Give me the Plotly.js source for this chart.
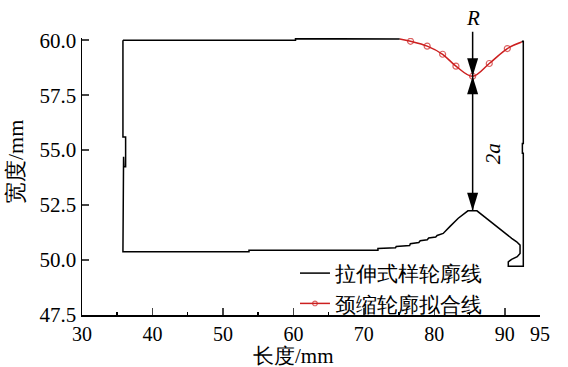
<!DOCTYPE html>
<html>
<head>
<meta charset="utf-8">
<script src="https://cdn.plot.ly/plotly-3.0.1.min.js"></script>
<style>html,body{margin:0;padding:0;background:#fff;}#chart{width:568px;height:367px;}</style>
</head>
<body>
<div id="chart"></div>
<script>
// Specimen contour (black), null = gap where fitted neck is drawn
var contourX = [35.81, 60.3, 60.3, 75.1, null, 92.4, 92.63, 92.63, 92.5, 92.5, 92.63, 92.63, 90.5, 90.5, 90.97, 91.77, 92.17, 92.17, 91.69, 90.98, 89.79, 88.37, 86.95, 86.05, 84.77, 83.4, 82.2, 81.26, 80.4, 80.2, 79.2, 79.0, 78.0, 77.8, 76.6, 76.5, 74.6, 74.5, 72.0, 72.0, 53.7, 53.7, 35.81, 35.81, 35.9, 35.95, 36.19, 36.19, 35.81, 35.81];
var contourY = [60.0, 60.0, 60.07, 60.06, null, 59.92, 59.97, 55.3, 55.3, 54.86, 54.86, 49.72, 49.72, 49.92, 50.03, 50.15, 50.3, 50.68, 50.83, 50.99, 51.29, 51.67, 52.05, 52.24, 52.24, 51.9, 51.52, 51.21, 51.12, 51.05, 51.0, 50.92, 50.88, 50.8, 50.74, 50.66, 50.62, 50.56, 50.53, 50.45, 50.45, 50.38, 50.38, 54.62, 54.7, 54.24, 54.24, 55.6, 55.6, 60.0];
// Fitted neck contour (red)
var neckX = [75.1, 76.63, 78.99, 81.18, 83.07, 85.44, 87.80, 90.36, 92.4];
var neckY = [60.05, 59.95, 59.73, 59.36, 58.82, 58.36, 58.94, 59.62, 59.92];
var neckMarkerSize = [0, 6, 6, 6, 6, 6, 6, 6, 0];
// Dimension values
var neckMinX = 85.44, neckMinY = 58.36, peakY = 52.24;
var xTicks = [30, 40, 50, 60, 70, 80, 90, 95];
var seriesNames = ['拉伸式样轮廓线', '颈缩轮廓拟合线'];

var FONT = 'Liberation Serif';

var traces = [
  {x: contourX, y: contourY, mode: 'lines', name: seriesNames[0], connectgaps: false,
   line: {color: '#000', width: 1.5}},
  {x: neckX, y: neckY, mode: 'lines+markers', name: seriesNames[1],
   line: {color: '#cc1f1f', width: 1.5, shape: 'spline'},
   marker: {symbol: 'circle-open', size: neckMarkerSize, color: '#cc1f1f', line: {width: 1.2}}}
];

var tri = 'M0,0L-5.5,18L5.5,18Z';
var triUp = 'M0,0L-5.5,-18L5.5,-18Z';

var layout = {
  width: 568, height: 367,
  margin: {l: 82, r: 28, t: 38, b: 52},
  paper_bgcolor: '#fff', plot_bgcolor: '#fff',
  font: {family: FONT, color: '#000', size: 20},
  showlegend: true,
  legend: {x: 0.465, y: 0.224, xanchor: 'left', yanchor: 'top', bgcolor: 'rgba(0,0,0,0)',
           font: {family: FONT, size: 21, color: '#000'}},
  xaxis: {range: [30, 95], tickmode: 'array', tickvals: xTicks, ticks: 'inside', ticklen: 7, tickwidth: 1.5,
          showline: true, linewidth: 1.5, linecolor: '#000', showgrid: false, zeroline: false, mirror: false,
          minor: {tick0: 30, dtick: 5, ticks: 'inside', ticklen: 3.5, tickwidth: 1.5, tickcolor: '#000', showgrid: false},
          tickfont: {family: FONT, size: 20, color: '#000'}},
  yaxis: {range: [47.5, 60.1], tick0: 47.5, dtick: 2.5, tickformat: '.1f', ticks: 'inside', ticklen: 7, tickwidth: 1.5,
          showline: true, linewidth: 1.5, linecolor: '#000', showgrid: false, zeroline: false, mirror: false,
          tickfont: {family: FONT, size: 21, color: '#000'}},
  shapes: [
    {type: 'line', xref: 'x', yref: 'y', x0: neckMinX, x1: neckMinX, y0: neckMinY, y1: peakY,
     line: {color: '#000', width: 1.5}},
    {type: 'path', xref: 'x', yref: 'y', xsizemode: 'pixel', ysizemode: 'pixel', xanchor: neckMinX, yanchor: neckMinY,
     path: tri, fillcolor: '#000', line: {width: 0}},
    {type: 'path', xref: 'x', yref: 'y', xsizemode: 'pixel', ysizemode: 'pixel', xanchor: neckMinX, yanchor: neckMinY,
     path: triUp, fillcolor: '#000', line: {width: 0}},
    {type: 'path', xref: 'x', yref: 'y', xsizemode: 'pixel', ysizemode: 'pixel', xanchor: neckMinX, yanchor: peakY,
     path: tri, fillcolor: '#000', line: {width: 0}}
  ],
  annotations: [
    {x: neckMinX, y: neckMinY, xref: 'x', yref: 'y', text: '<i>R</i>', showarrow: true, arrowhead: 0,
     ax: 0, ay: -58, arrowwidth: 1.5, arrowcolor: '#000', standoff: 0,
     font: {family: FONT, size: 21, color: '#000'}},
    {x: neckMinX, y: (neckMinY + peakY) / 2, xref: 'x', yref: 'y', text: '<i>2a</i>', showarrow: false,
     textangle: -90, xshift: 20, yshift: -10, font: {family: FONT, size: 21, color: '#000'}},
    {x: 0.4607, y: -0.148, xref: 'paper', yref: 'paper', text: '长度/mm', showarrow: false, borderpad: 0,
     xanchor: 'center', yanchor: 'middle', font: {family: FONT, size: 21, color: '#000'}},
    {x: -0.1463, y: 0.5523, xref: 'paper', yref: 'paper', text: '宽度/mm', showarrow: false, textangle: -90,
     xanchor: 'center', yanchor: 'middle', font: {family: FONT, size: 22, color: '#000'}}
  ]
};

Plotly.newPlot('chart', traces, layout, {displayModeBar: false, staticPlot: true});
</script>
</body>
</html>
